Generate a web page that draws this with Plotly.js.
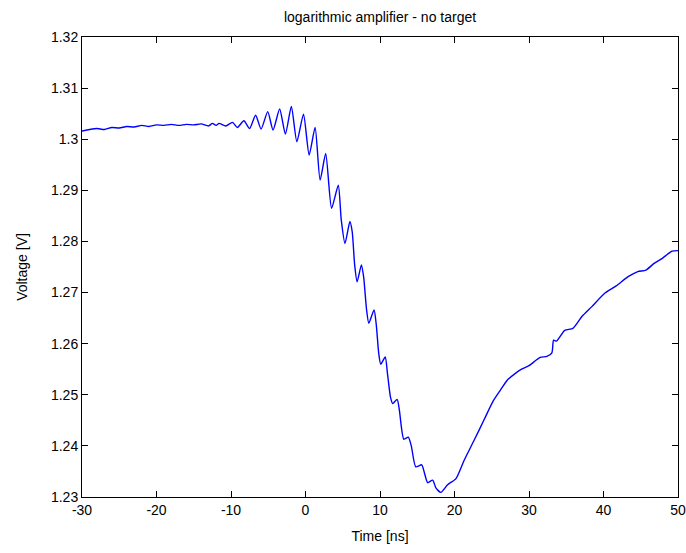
<!DOCTYPE html>
<html>
<head>
<meta charset="utf-8">
<script src="https://cdn.plot.ly/plotly-3.0.1.min.js"></script>
<style>html,body{margin:0;padding:0;background:#fff;}#chart{width:686px;height:553px;}</style>
</head>
<body>
<div id="chart"></div>
<script>
const timeNs = [-30,-29,-28,-27,-26,-25,-24,-23,-22,-21,-20,-19,-18,-17,-16,-15,-14,-13,-12.5,-12,
  -11.6,-10.7,-9.8,-9.16,-8.27,-7.5,-6.7,-5.96,-5.07,-4.36,-3.47,-2.7,-1.9,-1.16,-0.27,0.49,1.29,1.96,2.71,3.5,
  4.4,4.8,5.3,5.96,6.27,6.6,6.93,7.5,7.8,8.2,8.5,9.2,9.5,9.83,10.1,10.7,11.0,11.4,11.7,12.3,
  12.6,13.2,13.8,14.2,14.8,15.6,16.0,16.4,17.07,17.5,18.17,19.07,20.2,21.3,22.6,24.0,25.2,26.2,27.1,28.0,
  29.0,30.0,31.5,32.4,33.07,33.3,33.7,34.8,35.9,37.1,38.4,40.2,41.7,43.3,44.6,45.7,46.8,47.9,48.6,49.2,50];
const voltage = [1.3016,1.3019,1.3021,1.3019,1.3023,1.3022,1.3025,1.3024,1.3027,1.3025,1.3028,1.3027,1.3029,1.3027,1.3029,1.3028,1.3030,1.3026,1.3031,1.3027,
  1.3031,1.3026,1.3033,1.3023,1.3036,1.3021,1.3047,1.3020,1.3054,1.3018,1.3059,1.3010,1.3064,1.2995,1.3049,1.2969,1.3023,1.2920,1.2972,1.2865,
  1.2910,1.2842,1.2796,1.2839,1.2819,1.2754,1.2721,1.2754,1.2731,1.2666,1.2640,1.2666,1.2637,1.2581,1.2560,1.2574,1.2542,1.2496,1.2483,1.2491,
  1.2470,1.2413,1.2417,1.2400,1.2359,1.2363,1.2345,1.2328,1.2333,1.2318,1.2309,1.2324,1.2336,1.2372,1.2410,1.2452,1.2488,1.2510,1.2529,1.2540,
  1.2550,1.2557,1.2573,1.2575,1.2582,1.2607,1.2605,1.2626,1.2630,1.2653,1.2672,1.2699,1.2713,1.2731,1.2741,1.2744,1.2757,1.2767,1.2775,1.2781,1.2782];
const xTicks = [-30,-20,-10,0,10,20,30,40,50];
const yTicks = [1.23,1.24,1.25,1.26,1.27,1.28,1.29,1.3,1.31,1.32];
const yTickText = ['1.23','1.24','1.25','1.26','1.27','1.28','1.29','1.3','1.31','1.32'];

const font = {family: 'Liberation Sans, Arial, sans-serif', size: 14, color: '#000'};
const axisCommon = {
  showgrid: false, zeroline: false, showline: true, mirror: 'ticks',
  linecolor: '#000', linewidth: 1, ticks: 'inside', ticklen: 6, tickcolor: '#000', tickwidth: 1,
  tickfont: font
};
Plotly.newPlot('chart', [{
  x: timeNs, y: voltage, type: 'scatter', mode: 'lines',
  line: {color: '#0000ff', width: 1.4, shape: 'spline', smoothing: 0.6}
}], {
  width: 686, height: 553,
  margin: {l: 82, r: 8, t: 37, b: 56},
  paper_bgcolor: '#fff', plot_bgcolor: '#fff',
  showlegend: false,
  title: {text: 'logarithmic amplifier - no target', font: {family: font.family, size: 14, color: '#000'}, x: 0.554, xanchor: 'center', y: 0.969, yanchor: 'middle'},
  xaxis: Object.assign({}, axisCommon, {range: [-30, 50], tickvals: xTicks, ticktext: xTicks.map(String),
    title: {text: 'Time [ns]', font: {family: font.family, size: 14, color: '#000'}, standoff: 14}}),
  yaxis: Object.assign({}, axisCommon, {range: [1.23, 1.32], tickvals: yTicks, ticktext: yTickText,
    title: {text: 'Voltage [V]', font: {family: font.family, size: 14, color: '#000'}, standoff: 20}})
}, {displayModeBar: false, staticPlot: true});
</script>
</body>
</html>
